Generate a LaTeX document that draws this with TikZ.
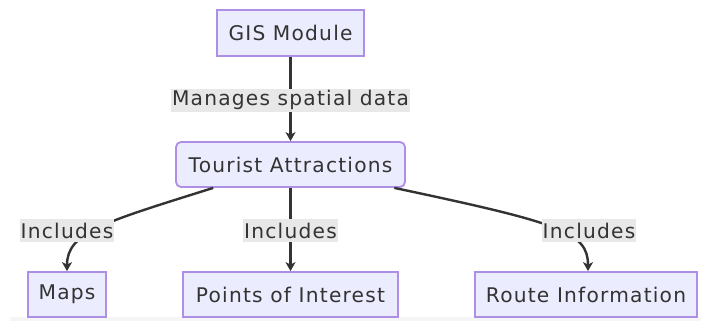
\documentclass[tikz,border=0pt]{standalone}
\usepackage{fontspec}
\setmainfont{DejaVu Sans}[LetterSpace=6]
\usetikzlibrary{arrows.meta,calc}
\definecolor{nodefill}{HTML}{ECECFF}
\definecolor{nodeline}{HTML}{AE8FE6}
\definecolor{edgecol}{HTML}{333333}
\definecolor{lblbg}{HTML}{E8E8E8}
\tikzset{
  box/.style={draw=nodeline, fill=nodefill, line width=1.8pt, text=edgecol,
    font=\fontsize{20.2}{24}\selectfont, inner sep=0pt, anchor=center},
  elabel/.style={fill=lblbg, text=edgecol, font=\fontsize{20.2}{24}\selectfont,
    inner xsep=1pt, inner ysep=0pt, minimum height=23pt},
  edge/.style={draw=edgecol, line width=2.4pt,
    -{Stealth[length=9pt,width=10pt,inset=2.5pt]}},
}
\begin{document}
\begin{tikzpicture}[x=1pt,y=-1pt]
\useasboundingbox (0,0) rectangle (701,321);
\fill[black!4] (10,317) rectangle (701,321);
\node[box, minimum width=147pt, minimum height=46pt] (gis) at (290.5,33) {GIS Module};
\node[box, rounded corners=5pt, minimum width=229pt, minimum height=45pt] (ta) at (290.5,164.5) {Tourist Attractions};
\node[box, minimum width=78pt, minimum height=45pt] (maps) at (67,294.5) {Maps};
\node[box, minimum width=215pt, minimum height=45pt] (poi) at (290.5,294.5) {Points of Interest};
\node[box, minimum width=222pt, minimum height=45pt] (route) at (586,294.5) {Route Information};
% edges
\draw[edge] (gis.south) -- (ta.north);
\draw[edge] ($(ta.south)!0.67!(ta.south west)$) .. controls (105,222) and (67,232) .. (maps.north);
\draw[edge] (ta.south) -- (poi.north);
\draw[edge] ($(ta.south)!0.9!(ta.south east)$) .. controls (560,223) and (588,232) .. ($(route.north)+(2,0)$);
% labels
\node[elabel] (l1) at (290.5,100) {Manages spatial data};
\node[elabel] (l2) at (67,230.5) {Includes};
\node[elabel] (l3) at (290.5,230.5) {Includes};
\node[elabel] (l4) at (589,230.5) {Includes};
\end{tikzpicture}
\end{document}
